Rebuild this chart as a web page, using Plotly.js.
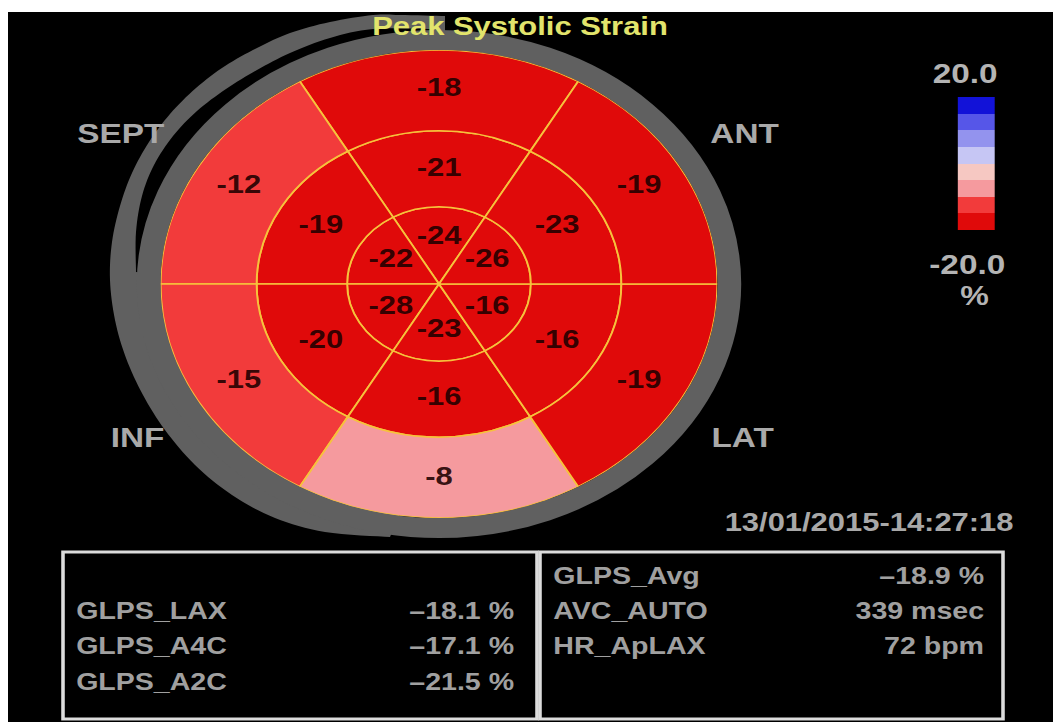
<!DOCTYPE html>
<html>
<head>
<meta charset="utf-8">
<script src="https://cdn.plot.ly/plotly-3.0.1.min.js"></script>
<style>
html,body{margin:0;padding:0;background:#fff;overflow:hidden;width:1053px;height:722px;}
#chart{width:885px;height:722px;transform-origin:0 0;}
</style>
</head>
<body>
<div id="chart"></div>
<script>
// ---------------- data ----------------
const chartTitle = 'Peak Systolic Strain';
const walls = ['ANT_SEPT', 'SEPT', 'INF', 'POST', 'LAT', 'ANT'];
const basalStrain  = [-18, -12, -15, -8, -19, -19];
const midStrain    = [-21, -19, -20, -16, -16, -23];
const apicalStrain = [-24, -22, -28, -23, -16, -26];
const wallLabels = ['SEPT', 'ANT', 'LAT', 'INF'];
const scaleMax = 20.0, scaleMin = -20.0;
const scaleTickLabels = ['20.0', '-20.0'];
const scaleUnit = '%';
const timestamp = '13/01/2015-14:27:18';
const leftNames  = ['GLPS_LAX', 'GLPS_A4C', 'GLPS_A2C'];
const leftValues = ['\u201318.1 %', '\u201317.1 %', '\u201321.5 %'];
const rightNames  = ['GLPS_Avg', 'AVC_AUTO', 'HR_ApLAX'];
const rightValues = ['\u201318.9 %', '339 msec', '72 bpm'];

// ---------------- geometry / style ----------------
const FULLW = 1053, H = 722, W = 885;           // drawn at W then stretched to FULLW
const S = FULLW / W;
const px = X => X / FULLW;                      // output-pixel x -> paper
const py = Y => 1 - Y / H;                      // output-pixel y -> paper
const geo = {
  cx: 439 / S, cy: 284, R: 234,
  wallAngle: {ANT_SEPT: 90, SEPT: 150, INF: 210, POST: 270, LAT: 330, ANT: 30},
  rings: [
    {vals: apicalStrain, r0: 0.0,   r1: 0.33,  labelR: 0.20},
    {vals: midStrain,    r0: 0.33,  r1: 0.655, labelR: 0.49},
    {vals: basalStrain,  r0: 0.655, r1: 1.0,   labelR: 0.83}
  ]
};
const binColors = ['#e00a0a', '#f23b3b', '#f59a9e', '#f6c8c2', '#c6c6f4', '#9393ee', '#5656e8', '#1212d8'];
const colorscale = [];
binColors.forEach((c, i) => { colorscale.push([i / binColors.length, c]); colorscale.push([(i + 1) / binColors.length, c]); });

const FONT = 'Liberation Sans, Arial, sans-serif';
const GREY_TXT = '#a9a9a9';
const RING_GREY = '#606060';

// ---------------- traces ----------------
const bar = {
  type: 'barpolar', r: [], base: [], theta: [], width: [],
  marker: {
    color: [], colorscale: colorscale, cmin: scaleMin, cmax: scaleMax,
    line: {color: '#f6c23c', width: 1.6},
    showscale: true,
    colorbar: {
      x: px(958), xanchor: 'left', xpad: 0,
      y: py(163.5), yanchor: 'middle', ypad: 0,
      thickness: 31, thicknessmode: 'pixels',
      len: 133, lenmode: 'pixels',
      showticklabels: false, ticks: '', outlinewidth: 0, borderwidth: 0,
      bgcolor: 'rgba(0,0,0,0)'
    }
  },
  hoverinfo: 'skip', showlegend: false
};
const labels = {
  type: 'scatterpolar', mode: 'text', r: [], theta: [], text: [],
  textposition: 'middle center',
  textfont: {family: FONT, size: 26, weight: 'bold', color: 'rgba(30,0,0,0.9)'},
  hoverinfo: 'skip', showlegend: false, cliponaxis: false
};
geo.rings.forEach(ring => {
  ring.vals.forEach((v, i) => {
    const th = geo.wallAngle[walls[i]];
    bar.r.push(ring.r1 - ring.r0); bar.base.push(ring.r0);
    bar.theta.push(th); bar.width.push(60); bar.marker.color.push(v);
    labels.r.push(ring.labelR); labels.theta.push(th); labels.text.push(String(v));
  });
});

// ---------------- decorations ----------------
// smooth a control polyline (Catmull-Rom) and close it through interior points
function smooth(pts, steps) {
  const out = [];
  for (let i = 0; i < pts.length - 1; i++) {
    const p0 = pts[Math.max(0, i - 1)], p1 = pts[i], p2 = pts[i + 1], p3 = pts[Math.min(pts.length - 1, i + 2)];
    for (let s = 0; s < steps; s++) {
      const t = s / steps, t2 = t * t, t3 = t2 * t;
      const f = k => 0.5 * ((2 * p1[k]) + (-p0[k] + p2[k]) * t + (2 * p0[k] - 5 * p1[k] + 4 * p2[k] - p3[k]) * t2 + (-p0[k] + 3 * p1[k] - 3 * p2[k] + p3[k]) * t3);
      out.push([f(0), f(1)]);
    }
  }
  out.push(pts[pts.length - 1]);
  return out;
}
function pathFrom(curve, interior) {
  const pts = smooth(curve, 8).concat(interior);
  return 'M' + pts.map(p => px(p[0]).toFixed(5) + ',' + py(p[1]).toFixed(5)).join('L') + 'Z';
}
const outerBand = [[445,16],[400,15],[373,15],[330,22],[290,33],[257,48],[225,66],[196,88],[170,114],
  [149,142],[132,173],[120,206],[112,242],[110,280],[115,320],[126,358],[143,395],[165,430],[195,465],
  [232,495],[275,518],[325,532],[390,537]];
const gap = [[432,29],[373,29],[330,38],[290,53],[257,70],[226,89],[197,111],[173,136],[154,165],
  [142,196],[136,232],[136,272]];
const ringMid = geo.R + 10;
const shapes = [
  {type: 'path', xref: 'paper', yref: 'paper', layer: 'below', path: pathFrom(outerBand, [[439,420],[439,284],[445,100]]), fillcolor: RING_GREY, line: {width: 0}},
  {type: 'path', xref: 'paper', yref: 'paper', layer: 'below', path: pathFrom(gap, [[250,284],[439,200]]), fillcolor: '#000', line: {width: 0}},
  {type: 'circle', xref: 'paper', yref: 'paper', layer: 'below',
   x0: (geo.cx - ringMid) / W, x1: (geo.cx + ringMid) / W,
   y0: (H - geo.cy - ringMid) / H, y1: (H - geo.cy + ringMid) / H,
   line: {color: RING_GREY, width: 20}, fillcolor: 'rgba(0,0,0,0)'},
  // summary boxes
  {type: 'rect', xref: 'paper', yref: 'paper', layer: 'above', x0: px(63), x1: px(537), y0: py(719), y1: py(552), line: {color: '#dcdcdc', width: 3}},
  {type: 'rect', xref: 'paper', yref: 'paper', layer: 'above', x0: px(540), x1: px(1003), y0: py(719), y1: py(552), line: {color: '#dcdcdc', width: 3}},
  // white frame of the screenshot
  {type: 'rect', xref: 'paper', yref: 'paper', layer: 'above', x0: 0, x1: 1, y0: py(12), y1: 1, fillcolor: '#fff', line: {width: 0}},
  {type: 'rect', xref: 'paper', yref: 'paper', layer: 'above', x0: 0, x1: px(8), y0: 0, y1: 1, fillcolor: '#fff', line: {width: 0}}
];

function ann(text, X, Y, anchor, size, color) {
  return {text: text, xref: 'paper', yref: 'paper', x: px(X), y: py(Y), xanchor: anchor, yanchor: 'middle',
          showarrow: false, font: {family: FONT, size: size, weight: 'bold', color: color}, borderpad: 0};
}
const wallPos = {SEPT: [121, 133], ANT: [745, 133], LAT: [743, 437], INF: [138, 437]};
const annotations = [];
wallLabels.forEach(w => annotations.push(ann(w, wallPos[w][0], wallPos[w][1], 'center', 28, GREY_TXT)));
annotations.push(ann(scaleTickLabels[0], 965, 73, 'center', 28, '#b4b4b4'));
annotations.push(ann(scaleTickLabels[1], 967, 265, 'center', 28, '#b4b4b4'));
annotations.push(ann(scaleUnit, 974, 296, 'center', 27, '#b4b4b4'));
annotations.push(ann(timestamp, 1015, 522, 'right', 26, '#a8a8a8'));
const leftRows = [610, 645, 681], rightRows = [575, 610, 645];
leftNames.forEach((t, i) => {
  annotations.push(ann(t, 75, leftRows[i], 'left', 24, '#a0a0a0'));
  annotations.push(ann(leftValues[i], 515, leftRows[i], 'right', 24, '#a0a0a0'));
});
rightNames.forEach((t, i) => {
  annotations.push(ann(t, 552, rightRows[i], 'left', 24, '#a0a0a0'));
  annotations.push(ann(rightValues[i], 985, rightRows[i], 'right', 24, '#a0a0a0'));
});

const layout = {
  width: W, height: H,
  margin: {l: 0, r: 0, t: 0, b: 0, pad: 0, autoexpand: false},
  paper_bgcolor: '#000', plot_bgcolor: '#000',
  showlegend: false,
  title: {text: chartTitle, x: px(520), xref: 'paper', xanchor: 'center', y: py(26), yref: 'paper', yanchor: 'middle',
          font: {family: FONT, size: 26, weight: 'bold', color: '#e2e46c'}},
  polar: {
    domain: {x: [(geo.cx - geo.R) / W, (geo.cx + geo.R) / W], y: [(H - geo.cy - geo.R) / H, (H - geo.cy + geo.R) / H]},
    bgcolor: 'rgba(0,0,0,0)',
    radialaxis: {range: [0, 1], visible: false},
    angularaxis: {visible: false, rotation: 0, direction: 'counterclockwise'}
  },
  shapes: shapes,
  annotations: annotations
};

Plotly.newPlot('chart', [bar, labels], layout, {staticPlot: true, displayModeBar: false}).then(() => {
  document.getElementById('chart').style.transform = 'scaleX(' + S + ')';
});
</script>
</body>
</html>
